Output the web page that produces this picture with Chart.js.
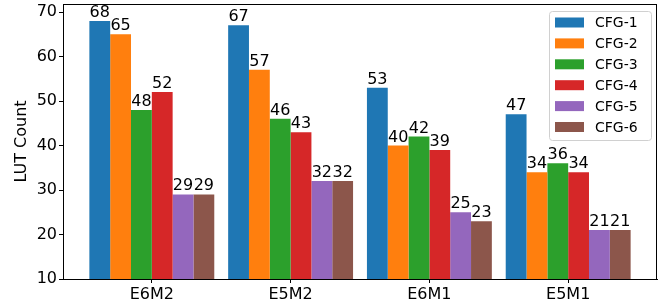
<!DOCTYPE html>
<html>
<head>
<meta charset="utf-8">
<script src="https://cdn.jsdelivr.net/npm/chart.js@4.4.1/dist/chart.umd.min.js"></script>
<style>
  body { margin: 0; background: #fff; }
  canvas { display: block; }
</style>
</head>
<body>
<canvas id="lutChart" width="662" height="303"></canvas>
<script>
// chart data
var categories = ["E6M2", "E5M2", "E6M1", "E5M1"];
var seriesNames = ["CFG-1", "CFG-2", "CFG-3", "CFG-4", "CFG-5", "CFG-6"];
var cfg1 = [68, 67, 53, 47];
var cfg2 = [65, 57, 40, 34];
var cfg3 = [48, 46, 42, 36];
var cfg4 = [52, 43, 39, 34];
var cfg5 = [29, 32, 25, 21];
var cfg6 = [29, 32, 23, 21];
var yTicks = [10, 20, 30, 40, 50, 60, 70];

var seriesValues = [cfg1, cfg2, cfg3, cfg4, cfg5, cfg6];
var colors = ["#1f77b4", "#ff7f0e", "#2ca02c", "#d62728", "#9467bd", "#8c564b"];
var font = "DejaVu Sans";

var datasets = seriesNames.map(function(name, s) {
	return {
		label : name,
		data : seriesValues[s].map(function(v, i) { return { x : i, y : v }; }),
		backgroundColor : colors[s],
		borderWidth : 0,
		categoryPercentage : 0.9,
		barPercentage : 1.0
	};
});

// box round the plot, like matplotlib spines
var frame = {
	id : "frame",
	afterDatasetsDraw : function(chart) {
		var a = chart.chartArea, ctx = chart.ctx;
		ctx.save();
		ctx.strokeStyle = "#000";
		ctx.lineWidth = 1;
		ctx.strokeRect(Math.round(a.left) + 0.5, Math.round(a.top) + 0.5,
			Math.round(a.right - a.left) - 1, Math.round(a.bottom - a.top));
		ctx.restore();
	}
};

// value labels above each bar
var barLabels = {
	id : "barLabels",
	afterDatasetsDraw : function(chart) {
		var ctx = chart.ctx;
		ctx.save();
		ctx.font = "16px '" + font + "'";
		ctx.fillStyle = "#000";
		ctx.textAlign = "center";
		ctx.textBaseline = "alphabetic";
		chart.data.datasets.forEach(function(ds, s) {
			chart.getDatasetMeta(s).data.forEach(function(bar, i) {
				ctx.fillText(String(seriesValues[s][i]), bar.x, bar.y - 4);
			});
		});
		ctx.restore();
	}
};

// legend inside the plot, top right
var innerLegend = {
	id : "innerLegend",
	afterDraw : function(chart) {
		var a = chart.chartArea, ctx = chart.ctx;
		var w = 102, h = 129;
		var x = a.right - 6 - w, y = a.top + 7;
		ctx.save();
		ctx.beginPath();
		ctx.roundRect(x + 0.5, y + 0.5, w, h, 3);
		ctx.fillStyle = "rgba(255,255,255,0.8)";
		ctx.fill();
		ctx.strokeStyle = "#d0d0d0";
		ctx.lineWidth = 1;
		ctx.stroke();
		ctx.font = "14px '" + font + "'";
		ctx.textBaseline = "middle";
		ctx.textAlign = "left";
		seriesNames.forEach(function(name, s) {
			var cy = y + 11.5 + s * 20.9;
			ctx.fillStyle = colors[s];
			ctx.fillRect(x + 6, cy - 5, 29, 10);
			ctx.fillStyle = "#000";
			ctx.fillText(name, x + 46, cy + 1);
		});
		ctx.restore();
	}
};

var chart = new Chart(document.getElementById("lutChart"), {
	type : "bar",
	data : { datasets : datasets },
	options : {
		responsive : false,
		animation : false,
		layout : { padding : { top : 4, right : 5, left : 0, bottom : 0 } },
		plugins : {
			legend : { display : false },
			tooltip : { enabled : false }
		},
		scales : {
			x : {
				type : "linear",
				min : -0.64,
				max : 3.64,
				offset : false,
				afterBuildTicks : function(axis) {
					axis.ticks = categories.map(function(c, i) { return { value : i }; });
				},
				afterFit : function(axis) {
					axis.height = 24;
					axis.paddingLeft = 0;
					axis.paddingRight = 0;
				},
				ticks : {
					autoSkip : false,
					maxRotation : 0,
					padding : 2,
					color : "#000",
					font : { family : font, size : 16 },
					callback : function(value) { return categories[Math.round(value)]; }
				},
				grid : { offset : false, drawOnChartArea : false, drawTicks : true, tickLength : 4, color : "#000" },
				border : { display : true, color : "#000", width : 1 }
			},
			y : {
				min : 10,
				max : 71.8,
				afterBuildTicks : function(axis) {
					axis.ticks = yTicks.map(function(v) { return { value : v }; });
				},
				afterFit : function(axis) {
					axis.width = 63;
					axis.paddingTop = 0;
					axis.paddingBottom = 0;
				},
				ticks : {
					padding : 2,
					color : "#000",
					font : { family : font, size : 16 }
				},
				title : {
					display : true,
					text : "LUT Count",
					color : "#000",
					font : { family : font, size : 16 },
					padding : { top : 12, bottom : 0 }
				},
				grid : { drawOnChartArea : false, drawTicks : true, tickLength : 4, color : "#000" },
				border : { display : true, color : "#000", width : 1 }
			}
		}
	},
	plugins : [frame, barLabels, innerLegend]
});
</script>
</body>
</html>
